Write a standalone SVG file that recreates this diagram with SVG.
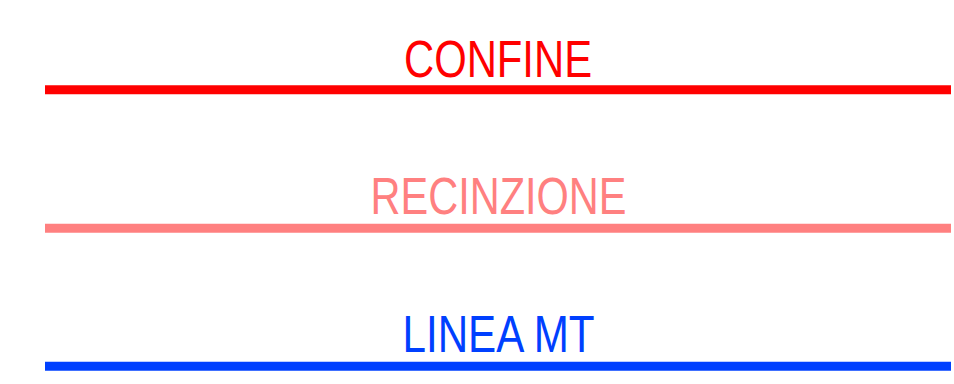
<svg xmlns="http://www.w3.org/2000/svg" width="954" height="384" viewBox="0 0 954 384">
<style>
.lbl{font-family:"Liberation Sans Narrow","Liberation Sans",Arial,sans-serif;font-size:52px;text-anchor:middle}
.ln{stroke-width:9;fill:none;stroke-linecap:butt}
</style>
<rect width="954" height="384" fill="#ffffff"/>
<g id="confine">
<text class="lbl" x="498" y="76.5" fill="#ff0000" textLength="188" lengthAdjust="spacingAndGlyphs">CONFINE</text>
<line class="ln" x1="45" y1="89.7" x2="951" y2="89.7" stroke="#ff0000"/>
</g>
<g id="recinzione">
<text class="lbl" x="498.5" y="214" fill="#ff8080" textLength="256" lengthAdjust="spacingAndGlyphs">RECINZIONE</text>
<line class="ln" x1="45" y1="228.2" x2="951" y2="228.2" stroke="#ff8080"/>
</g>
<g id="linea-mt">
<text class="lbl" x="498.5" y="352.3" fill="#0040ff" textLength="192" lengthAdjust="spacingAndGlyphs">LINEA MT</text>
<line class="ln" x1="45" y1="366.3" x2="951" y2="366.3" stroke="#0040ff"/>
</g>
</svg>
